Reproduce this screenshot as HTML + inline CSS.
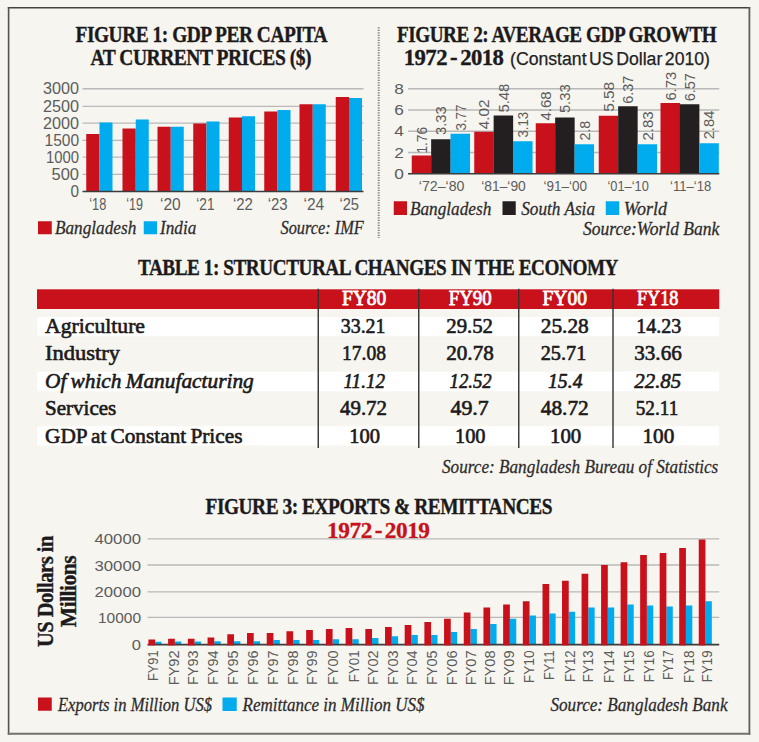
<!DOCTYPE html>
<html><head><meta charset="utf-8"><title>Bangladesh economy charts</title>
<style>html,body{margin:0;padding:0;background:#f6f5f0;}svg{display:block}</style></head>
<body><svg width="759" height="742" viewBox="0 0 759 742">
<rect width="759" height="742" fill="#f6f5f0"/>
<line x1="7.8" y1="7.75" x2="750.2" y2="7.75" stroke="#47423e" stroke-width="1.6" />
<line x1="8.6" y1="7.0" x2="8.6" y2="734.8" stroke="#56524e" stroke-width="1.6" />
<line x1="749.4" y1="7.0" x2="749.4" y2="734.8" stroke="#625e5a" stroke-width="1.8" />
<line x1="7.8" y1="733.8" x2="750.3" y2="733.8" stroke="#74726e" stroke-width="2.0" />
<line x1="378.7" y1="27.2" x2="378.7" y2="238" stroke="#858585" stroke-width="2" stroke-dasharray="1.2 1.3"/>
<text x="75.5" y="41.9" font-family='"Liberation Serif", serif' font-size="22.6" font-weight="bold" font-style="normal" fill="#1c1a1b" textLength="251.5" lengthAdjust="spacingAndGlyphs" letter-spacing="-0.55" stroke="#1c1a1b" stroke-width="0.35">FIGURE 1: GDP PER CAPITA</text>
<text x="90.5" y="65.1" font-family='"Liberation Serif", serif' font-size="22.6" font-weight="bold" font-style="normal" fill="#1c1a1b" textLength="220.5" lengthAdjust="spacingAndGlyphs" letter-spacing="-0.55" stroke="#1c1a1b" stroke-width="0.35">AT CURRENT PRICES ($)</text>
<line x1="82.5" y1="88.75" x2="363.5" y2="88.75" stroke="#b9b9b9" stroke-width="1.3" />
<line x1="82.5" y1="106.4" x2="363.5" y2="106.4" stroke="#b9b9b9" stroke-width="1.3" />
<line x1="82.5" y1="123.2" x2="363.5" y2="123.2" stroke="#b9b9b9" stroke-width="1.3" />
<line x1="82.5" y1="140.4" x2="363.5" y2="140.4" stroke="#b9b9b9" stroke-width="1.3" />
<line x1="82.5" y1="157.2" x2="363.5" y2="157.2" stroke="#b9b9b9" stroke-width="1.3" />
<line x1="82.5" y1="174.3" x2="363.5" y2="174.3" stroke="#b9b9b9" stroke-width="1.3" />
<text x="43" y="94.05" font-family='"Liberation Sans", sans-serif' font-size="16.0" font-weight="normal" font-style="normal" fill="#5c5c5c" textLength="36" lengthAdjust="spacingAndGlyphs" >3000</text>
<text x="43" y="111.7" font-family='"Liberation Sans", sans-serif' font-size="16.0" font-weight="normal" font-style="normal" fill="#5c5c5c" textLength="36" lengthAdjust="spacingAndGlyphs" >2500</text>
<text x="43" y="128.5" font-family='"Liberation Sans", sans-serif' font-size="16.0" font-weight="normal" font-style="normal" fill="#5c5c5c" textLength="36" lengthAdjust="spacingAndGlyphs" >2000</text>
<text x="44.5" y="145.70000000000002" font-family='"Liberation Sans", sans-serif' font-size="16.0" font-weight="normal" font-style="normal" fill="#5c5c5c" textLength="34.5" lengthAdjust="spacingAndGlyphs" >1500</text>
<text x="46" y="162.5" font-family='"Liberation Sans", sans-serif' font-size="16.0" font-weight="normal" font-style="normal" fill="#5c5c5c" textLength="33" lengthAdjust="spacingAndGlyphs" >1000</text>
<text x="51.5" y="179.60000000000002" font-family='"Liberation Sans", sans-serif' font-size="16.0" font-weight="normal" font-style="normal" fill="#5c5c5c" textLength="27.5" lengthAdjust="spacingAndGlyphs" >500</text>
<text x="70.5" y="196.8" font-family='"Liberation Sans", sans-serif' font-size="16.0" font-weight="normal" font-style="normal" fill="#5c5c5c" textLength="8.5" lengthAdjust="spacingAndGlyphs" >0</text>
<rect x="86.25" y="134.00" width="13.25" height="57.50" fill="#c8111a"/>
<rect x="99.50" y="122.50" width="13.00" height="69.00" fill="#00acee"/>
<text x="89.25" y="209.6" font-family='"Liberation Sans", sans-serif' font-size="15.8" font-weight="normal" font-style="normal" fill="#5c5c5c" textLength="17" lengthAdjust="spacingAndGlyphs" >‘18</text>
<rect x="122.50" y="128.50" width="13.25" height="63.00" fill="#c8111a"/>
<rect x="135.75" y="119.50" width="13.00" height="72.00" fill="#00acee"/>
<text x="126.225" y="209.6" font-family='"Liberation Sans", sans-serif' font-size="15.8" font-weight="normal" font-style="normal" fill="#5c5c5c" textLength="16.75" lengthAdjust="spacingAndGlyphs" >‘19</text>
<rect x="157.50" y="126.75" width="13.25" height="64.75" fill="#c8111a"/>
<rect x="170.75" y="126.75" width="13.00" height="64.75" fill="#00acee"/>
<text x="160.025" y="209.6" font-family='"Liberation Sans", sans-serif' font-size="15.8" font-weight="normal" font-style="normal" fill="#5c5c5c" textLength="20.75" lengthAdjust="spacingAndGlyphs" >‘20</text>
<rect x="193.25" y="123.50" width="13.25" height="68.00" fill="#c8111a"/>
<rect x="206.50" y="121.50" width="13.00" height="70.00" fill="#00acee"/>
<text x="196.275" y="209.6" font-family='"Liberation Sans", sans-serif' font-size="15.8" font-weight="normal" font-style="normal" fill="#5c5c5c" textLength="18.25" lengthAdjust="spacingAndGlyphs" >‘21</text>
<rect x="228.75" y="117.50" width="13.25" height="74.00" fill="#c8111a"/>
<rect x="242.00" y="116.25" width="13.00" height="75.25" fill="#00acee"/>
<text x="232.9" y="209.6" font-family='"Liberation Sans", sans-serif' font-size="15.8" font-weight="normal" font-style="normal" fill="#5c5c5c" textLength="20" lengthAdjust="spacingAndGlyphs" >‘22</text>
<rect x="264.25" y="111.50" width="13.25" height="80.00" fill="#c8111a"/>
<rect x="277.50" y="110.00" width="13.00" height="81.50" fill="#00acee"/>
<text x="267.7" y="209.6" font-family='"Liberation Sans", sans-serif' font-size="15.8" font-weight="normal" font-style="normal" fill="#5c5c5c" textLength="20" lengthAdjust="spacingAndGlyphs" >‘23</text>
<rect x="299.50" y="104.25" width="13.25" height="87.25" fill="#c8111a"/>
<rect x="312.75" y="104.25" width="13.00" height="87.25" fill="#00acee"/>
<text x="303.54999999999995" y="209.6" font-family='"Liberation Sans", sans-serif' font-size="15.8" font-weight="normal" font-style="normal" fill="#5c5c5c" textLength="20.7" lengthAdjust="spacingAndGlyphs" >‘24</text>
<rect x="335.75" y="97.00" width="13.25" height="94.50" fill="#c8111a"/>
<rect x="349.00" y="98.00" width="13.00" height="93.50" fill="#00acee"/>
<text x="339.4" y="209.6" font-family='"Liberation Sans", sans-serif' font-size="15.8" font-weight="normal" font-style="normal" fill="#5c5c5c" textLength="19.6" lengthAdjust="spacingAndGlyphs" >‘25</text>
<line x1="82.5" y1="191.5" x2="363.5" y2="191.5" stroke="#3c3c3c" stroke-width="1.6" />
<rect x="38.00" y="221.25" width="13.75" height="13.00" fill="#c8111a"/>
<text x="55" y="234.25" font-family='"Liberation Serif", serif' font-size="19.6" font-weight="normal" font-style="italic" fill="#2e2b2c" textLength="81.25" lengthAdjust="spacingAndGlyphs" stroke="#2e2b2c" stroke-width="0.28">Bangladesh</text>
<rect x="143.75" y="221.25" width="13.25" height="13.00" fill="#00acee"/>
<text x="160" y="234.25" font-family='"Liberation Serif", serif' font-size="19.6" font-weight="normal" font-style="italic" fill="#2e2b2c" textLength="36.25" lengthAdjust="spacingAndGlyphs" stroke="#2e2b2c" stroke-width="0.28">India</text>
<text x="280.5" y="234.25" font-family='"Liberation Serif", serif' font-size="19.6" font-weight="normal" font-style="italic" fill="#2e2b2c" textLength="83.25" lengthAdjust="spacingAndGlyphs" stroke="#2e2b2c" stroke-width="0.28">Source: IMF</text>
<text x="397" y="41.9" font-family='"Liberation Serif", serif' font-size="22.6" font-weight="bold" font-style="normal" fill="#1c1a1b" textLength="319.25" lengthAdjust="spacingAndGlyphs" letter-spacing="-0.55" stroke="#1c1a1b" stroke-width="0.35">FIGURE 2: AVERAGE GDP GROWTH</text>
<text x="403.8" y="65.0" font-family='"Liberation Serif", serif' font-size="22.6" font-weight="bold" font-style="normal" fill="#1c1a1b" textLength="99.5" lengthAdjust="spacingAndGlyphs" letter-spacing="-0.55" stroke="#1c1a1b" stroke-width="0.35" word-spacing="-2">1972 - 2018</text>
<text x="510" y="65.1" font-family='"Liberation Sans", sans-serif' font-size="18.8" font-weight="normal" font-style="normal" fill="#222" textLength="200" lengthAdjust="spacingAndGlyphs" word-spacing="-2.5" stroke="#222" stroke-width="0.25">(Constant US Dollar 2010)</text>
<line x1="408" y1="88.75" x2="719.25" y2="88.75" stroke="#b9b9b9" stroke-width="1.3" />
<line x1="408" y1="110" x2="719.25" y2="110" stroke="#b9b9b9" stroke-width="1.3" />
<line x1="408" y1="131.25" x2="719.25" y2="131.25" stroke="#b9b9b9" stroke-width="1.3" />
<line x1="408" y1="152.5" x2="719.25" y2="152.5" stroke="#b9b9b9" stroke-width="1.3" />
<text x="394.3" y="93.75" font-family='"Liberation Sans", sans-serif' font-size="15.3" font-weight="normal" font-style="normal" fill="#5c5c5c" textLength="9.6" lengthAdjust="spacingAndGlyphs" >8</text>
<text x="394.3" y="115.0" font-family='"Liberation Sans", sans-serif' font-size="15.3" font-weight="normal" font-style="normal" fill="#5c5c5c" textLength="9.6" lengthAdjust="spacingAndGlyphs" >6</text>
<text x="394.3" y="136.25" font-family='"Liberation Sans", sans-serif' font-size="15.3" font-weight="normal" font-style="normal" fill="#5c5c5c" textLength="9.6" lengthAdjust="spacingAndGlyphs" >4</text>
<text x="394.3" y="157.5" font-family='"Liberation Sans", sans-serif' font-size="15.3" font-weight="normal" font-style="normal" fill="#5c5c5c" textLength="9.6" lengthAdjust="spacingAndGlyphs" >2</text>
<text x="394.3" y="178.75" font-family='"Liberation Sans", sans-serif' font-size="15.3" font-weight="normal" font-style="normal" fill="#5c5c5c" textLength="9.6" lengthAdjust="spacingAndGlyphs" >0</text>
<rect x="411.75" y="155.50" width="19.50" height="18.25" fill="#c8111a"/>
<text transform="translate(426.84999999999997,153.5) rotate(-90)" font-family='"Liberation Sans", sans-serif' font-size="15.0" font-weight="normal" font-style="normal" fill="#5c5c5c" textLength="26.5" lengthAdjust="spacingAndGlyphs" >1.76</text>
<rect x="431.15" y="139.25" width="19.50" height="34.50" fill="#231f20"/>
<text transform="translate(446.24999999999994,134.9) rotate(-90)" font-family='"Liberation Sans", sans-serif' font-size="15.0" font-weight="normal" font-style="normal" fill="#5c5c5c" textLength="28.6" lengthAdjust="spacingAndGlyphs" >3.33</text>
<rect x="450.55" y="133.75" width="19.50" height="40.00" fill="#00acee"/>
<text transform="translate(465.65,130.6) rotate(-90)" font-family='"Liberation Sans", sans-serif' font-size="15.0" font-weight="normal" font-style="normal" fill="#5c5c5c" textLength="26.2" lengthAdjust="spacingAndGlyphs" >3.77</text>
<text x="418.75" y="190.9" font-family='"Liberation Sans", sans-serif' font-size="15.2" font-weight="normal" font-style="normal" fill="#5c5c5c" textLength="45.75" lengthAdjust="spacingAndGlyphs" >‘72–‘80</text>
<rect x="474.25" y="131.75" width="19.50" height="42.00" fill="#c8111a"/>
<text transform="translate(489.34999999999997,129.35) rotate(-90)" font-family='"Liberation Sans", sans-serif' font-size="15.0" font-weight="normal" font-style="normal" fill="#5c5c5c" textLength="29.95" lengthAdjust="spacingAndGlyphs" >4.02</text>
<rect x="493.65" y="115.50" width="19.50" height="58.25" fill="#231f20"/>
<text transform="translate(508.74999999999994,112.6) rotate(-90)" font-family='"Liberation Sans", sans-serif' font-size="15.0" font-weight="normal" font-style="normal" fill="#5c5c5c" textLength="28.95" lengthAdjust="spacingAndGlyphs" >5.48</text>
<rect x="513.05" y="141.25" width="19.50" height="32.50" fill="#00acee"/>
<text transform="translate(528.15,137.6) rotate(-90)" font-family='"Liberation Sans", sans-serif' font-size="15.0" font-weight="normal" font-style="normal" fill="#5c5c5c" textLength="25.7" lengthAdjust="spacingAndGlyphs" >3.13</text>
<text x="481.25" y="190.9" font-family='"Liberation Sans", sans-serif' font-size="15.2" font-weight="normal" font-style="normal" fill="#5c5c5c" textLength="44.5" lengthAdjust="spacingAndGlyphs" >‘81–‘90</text>
<rect x="535.75" y="123.25" width="19.50" height="50.50" fill="#c8111a"/>
<text transform="translate(550.85,120.6) rotate(-90)" font-family='"Liberation Sans", sans-serif' font-size="15.0" font-weight="normal" font-style="normal" fill="#5c5c5c" textLength="29.2" lengthAdjust="spacingAndGlyphs" >4.68</text>
<rect x="555.15" y="117.50" width="19.50" height="56.25" fill="#231f20"/>
<text transform="translate(570.25,113.1) rotate(-90)" font-family='"Liberation Sans", sans-serif' font-size="15.0" font-weight="normal" font-style="normal" fill="#5c5c5c" textLength="28.7" lengthAdjust="spacingAndGlyphs" >5.33</text>
<rect x="574.55" y="144.25" width="19.50" height="29.50" fill="#00acee"/>
<text transform="translate(589.65,140.6) rotate(-90)" font-family='"Liberation Sans", sans-serif' font-size="15.0" font-weight="normal" font-style="normal" fill="#5c5c5c" textLength="19.95" lengthAdjust="spacingAndGlyphs" >2.8</text>
<text x="543.5" y="190.9" font-family='"Liberation Sans", sans-serif' font-size="15.2" font-weight="normal" font-style="normal" fill="#5c5c5c" textLength="43.5" lengthAdjust="spacingAndGlyphs" >‘91–‘00</text>
<rect x="598.75" y="115.75" width="19.50" height="58.00" fill="#c8111a"/>
<text transform="translate(613.85,111.85) rotate(-90)" font-family='"Liberation Sans", sans-serif' font-size="15.0" font-weight="normal" font-style="normal" fill="#5c5c5c" textLength="29.95" lengthAdjust="spacingAndGlyphs" >5.58</text>
<rect x="618.15" y="106.25" width="19.50" height="67.50" fill="#231f20"/>
<text transform="translate(633.25,103.85) rotate(-90)" font-family='"Liberation Sans", sans-serif' font-size="15.0" font-weight="normal" font-style="normal" fill="#5c5c5c" textLength="28.2" lengthAdjust="spacingAndGlyphs" >6.37</text>
<rect x="637.55" y="144.25" width="19.50" height="29.50" fill="#00acee"/>
<text transform="translate(652.65,140.6) rotate(-90)" font-family='"Liberation Sans", sans-serif' font-size="15.0" font-weight="normal" font-style="normal" fill="#5c5c5c" textLength="29.2" lengthAdjust="spacingAndGlyphs" >2.83</text>
<text x="607.5" y="190.9" font-family='"Liberation Sans", sans-serif' font-size="15.2" font-weight="normal" font-style="normal" fill="#5c5c5c" textLength="41.25" lengthAdjust="spacingAndGlyphs" >‘01–‘10</text>
<rect x="660.50" y="103.00" width="19.50" height="70.75" fill="#c8111a"/>
<text transform="translate(675.6,100.6) rotate(-90)" font-family='"Liberation Sans", sans-serif' font-size="15.0" font-weight="normal" font-style="normal" fill="#5c5c5c" textLength="28.7" lengthAdjust="spacingAndGlyphs" >6.73</text>
<rect x="679.90" y="104.25" width="19.50" height="69.50" fill="#231f20"/>
<text transform="translate(695.0,101.35) rotate(-90)" font-family='"Liberation Sans", sans-serif' font-size="15.0" font-weight="normal" font-style="normal" fill="#5c5c5c" textLength="28.2" lengthAdjust="spacingAndGlyphs" >6.57</text>
<rect x="699.30" y="143.25" width="19.50" height="30.50" fill="#00acee"/>
<text transform="translate(714.4,139.35) rotate(-90)" font-family='"Liberation Sans", sans-serif' font-size="15.0" font-weight="normal" font-style="normal" fill="#5c5c5c" textLength="28.7" lengthAdjust="spacingAndGlyphs" >2.84</text>
<text x="670" y="190.9" font-family='"Liberation Sans", sans-serif' font-size="15.2" font-weight="normal" font-style="normal" fill="#5c5c5c" textLength="41.25" lengthAdjust="spacingAndGlyphs" >‘11–‘18</text>
<line x1="408" y1="173.75" x2="719.25" y2="173.75" stroke="#3c3c3c" stroke-width="1.6" />
<rect x="393.75" y="201.25" width="13.25" height="13.75" fill="#c8111a"/>
<text x="410" y="215" font-family='"Liberation Serif", serif' font-size="19.6" font-weight="normal" font-style="italic" fill="#2e2b2c" textLength="81.25" lengthAdjust="spacingAndGlyphs" stroke="#2e2b2c" stroke-width="0.28">Bangladesh</text>
<rect x="502.50" y="201.25" width="13.25" height="13.75" fill="#231f20"/>
<text x="521.25" y="215" font-family='"Liberation Serif", serif' font-size="19.6" font-weight="normal" font-style="italic" fill="#2e2b2c" textLength="73.75" lengthAdjust="spacingAndGlyphs" stroke="#2e2b2c" stroke-width="0.28">South Asia</text>
<rect x="605.75" y="201.25" width="13.50" height="13.75" fill="#00acee"/>
<text x="623.75" y="215" font-family='"Liberation Serif", serif' font-size="19.6" font-weight="normal" font-style="italic" fill="#2e2b2c" textLength="43.25" lengthAdjust="spacingAndGlyphs" stroke="#2e2b2c" stroke-width="0.28">World</text>
<text x="583" y="235" font-family='"Liberation Serif", serif' font-size="19.6" font-weight="normal" font-style="italic" fill="#2e2b2c" textLength="136.25" lengthAdjust="spacingAndGlyphs" stroke="#2e2b2c" stroke-width="0.28">Source:World Bank</text>
<text x="138" y="274.5" font-family='"Liberation Serif", serif' font-size="23.2" font-weight="bold" font-style="normal" fill="#1c1a1b" textLength="480" lengthAdjust="spacingAndGlyphs" letter-spacing="-0.55" stroke="#1c1a1b" stroke-width="0.35">TABLE 1: STRUCTURAL CHANGES IN THE ECONOMY</text>
<rect x="37.00" y="289.30" width="682.25" height="19.70" fill="#c8111a"/>
<rect x="37.00" y="317.00" width="682.25" height="19.25" fill="#ffffff"/>
<rect x="37.00" y="371.75" width="682.25" height="19.50" fill="#ffffff"/>
<rect x="37.00" y="426.25" width="682.25" height="19.25" fill="#ffffff"/>
<line x1="318.25" y1="288.75" x2="318.25" y2="448" stroke="#333" stroke-width="1.4" />
<line x1="418.75" y1="288.75" x2="418.75" y2="448" stroke="#333" stroke-width="1.4" />
<line x1="518.75" y1="288.75" x2="518.75" y2="448" stroke="#333" stroke-width="1.4" />
<line x1="613" y1="288.75" x2="613" y2="448" stroke="#333" stroke-width="1.4" />
<text x="342" y="305.4" font-family='"Liberation Serif", serif' font-size="20" font-weight="normal" font-style="normal" fill="#fff" textLength="44.25" lengthAdjust="spacingAndGlyphs" stroke="#fff" stroke-width="0.8" stroke-linejoin="round">FY80</text>
<text x="448.75" y="305.4" font-family='"Liberation Serif", serif' font-size="20" font-weight="normal" font-style="normal" fill="#fff" textLength="43.0" lengthAdjust="spacingAndGlyphs" stroke="#fff" stroke-width="0.8" stroke-linejoin="round">FY90</text>
<text x="542.5" y="305.4" font-family='"Liberation Serif", serif' font-size="20" font-weight="normal" font-style="normal" fill="#fff" textLength="44.5" lengthAdjust="spacingAndGlyphs" stroke="#fff" stroke-width="0.8" stroke-linejoin="round">FY00</text>
<text x="637" y="305.4" font-family='"Liberation Serif", serif' font-size="20" font-weight="normal" font-style="normal" fill="#fff" textLength="41.25" lengthAdjust="spacingAndGlyphs" stroke="#fff" stroke-width="0.8" stroke-linejoin="round">FY18</text>
<text x="45" y="333" font-family='"Liberation Serif", serif' font-size="21.3" font-weight="normal" font-style="normal" fill="#1c1a1b" textLength="100" lengthAdjust="spacingAndGlyphs" stroke="#1c1a1b" stroke-width="0.62" stroke-linejoin="round" word-spacing="-1.2">Agriculture</text>
<text x="45" y="360" font-family='"Liberation Serif", serif' font-size="21.3" font-weight="normal" font-style="normal" fill="#1c1a1b" textLength="75" lengthAdjust="spacingAndGlyphs" stroke="#1c1a1b" stroke-width="0.62" stroke-linejoin="round" word-spacing="-1.2">Industry</text>
<text x="45" y="387.5" font-family='"Liberation Serif", serif' font-size="21.3" font-weight="normal" font-style="italic" fill="#1c1a1b" textLength="208.75" lengthAdjust="spacingAndGlyphs" stroke="#1c1a1b" stroke-width="0.62" stroke-linejoin="round" word-spacing="-1.2">Of which Manufacturing</text>
<text x="45" y="414.5" font-family='"Liberation Serif", serif' font-size="21.3" font-weight="normal" font-style="normal" fill="#1c1a1b" textLength="71.25" lengthAdjust="spacingAndGlyphs" stroke="#1c1a1b" stroke-width="0.62" stroke-linejoin="round" word-spacing="-1.2">Services</text>
<text x="45" y="442.5" font-family='"Liberation Serif", serif' font-size="21.3" font-weight="normal" font-style="normal" fill="#1c1a1b" textLength="197.5" lengthAdjust="spacingAndGlyphs" stroke="#1c1a1b" stroke-width="0.62" stroke-linejoin="round" word-spacing="-1.2">GDP at Constant Prices</text>
<text x="340.75" y="333" font-family='"Liberation Serif", serif' font-size="20.3" font-weight="normal" font-style="normal" fill="#1c1a1b" textLength="44.75" lengthAdjust="spacingAndGlyphs" stroke="#1c1a1b" stroke-width="0.62" stroke-linejoin="round">33.21</text>
<text x="342" y="360" font-family='"Liberation Serif", serif' font-size="20.3" font-weight="normal" font-style="normal" fill="#1c1a1b" textLength="44" lengthAdjust="spacingAndGlyphs" stroke="#1c1a1b" stroke-width="0.62" stroke-linejoin="round">17.08</text>
<text x="343.5" y="387.5" font-family='"Liberation Serif", serif' font-size="20.3" font-weight="normal" font-style="italic" fill="#1c1a1b" textLength="41.5" lengthAdjust="spacingAndGlyphs" stroke="#1c1a1b" stroke-width="0.62" stroke-linejoin="round">11.12</text>
<text x="340" y="414.5" font-family='"Liberation Serif", serif' font-size="20.3" font-weight="normal" font-style="normal" fill="#1c1a1b" textLength="47" lengthAdjust="spacingAndGlyphs" stroke="#1c1a1b" stroke-width="0.62" stroke-linejoin="round">49.72</text>
<text x="349.25" y="442.5" font-family='"Liberation Serif", serif' font-size="20.3" font-weight="normal" font-style="normal" fill="#1c1a1b" textLength="30.75" lengthAdjust="spacingAndGlyphs" stroke="#1c1a1b" stroke-width="0.62" stroke-linejoin="round">100</text>
<text x="446.25" y="333" font-family='"Liberation Serif", serif' font-size="20.3" font-weight="normal" font-style="normal" fill="#1c1a1b" textLength="46.75" lengthAdjust="spacingAndGlyphs" stroke="#1c1a1b" stroke-width="0.62" stroke-linejoin="round">29.52</text>
<text x="446.25" y="360" font-family='"Liberation Serif", serif' font-size="20.3" font-weight="normal" font-style="normal" fill="#1c1a1b" textLength="47.5" lengthAdjust="spacingAndGlyphs" stroke="#1c1a1b" stroke-width="0.62" stroke-linejoin="round">20.78</text>
<text x="449.5" y="387.5" font-family='"Liberation Serif", serif' font-size="20.3" font-weight="normal" font-style="italic" fill="#1c1a1b" textLength="42.25" lengthAdjust="spacingAndGlyphs" stroke="#1c1a1b" stroke-width="0.62" stroke-linejoin="round">12.52</text>
<text x="450.5" y="414.5" font-family='"Liberation Serif", serif' font-size="20.3" font-weight="normal" font-style="normal" fill="#1c1a1b" textLength="38.25" lengthAdjust="spacingAndGlyphs" stroke="#1c1a1b" stroke-width="0.62" stroke-linejoin="round">49.7</text>
<text x="455" y="442.5" font-family='"Liberation Serif", serif' font-size="20.3" font-weight="normal" font-style="normal" fill="#1c1a1b" textLength="30.5" lengthAdjust="spacingAndGlyphs" stroke="#1c1a1b" stroke-width="0.62" stroke-linejoin="round">100</text>
<text x="540.75" y="333" font-family='"Liberation Serif", serif' font-size="20.3" font-weight="normal" font-style="normal" fill="#1c1a1b" textLength="48.0" lengthAdjust="spacingAndGlyphs" stroke="#1c1a1b" stroke-width="0.62" stroke-linejoin="round">25.28</text>
<text x="540.75" y="360" font-family='"Liberation Serif", serif' font-size="20.3" font-weight="normal" font-style="normal" fill="#1c1a1b" textLength="45.5" lengthAdjust="spacingAndGlyphs" stroke="#1c1a1b" stroke-width="0.62" stroke-linejoin="round">25.71</text>
<text x="548" y="387.5" font-family='"Liberation Serif", serif' font-size="20.3" font-weight="normal" font-style="italic" fill="#1c1a1b" textLength="34.5" lengthAdjust="spacingAndGlyphs" stroke="#1c1a1b" stroke-width="0.62" stroke-linejoin="round">15.4</text>
<text x="540.75" y="414.5" font-family='"Liberation Serif", serif' font-size="20.3" font-weight="normal" font-style="normal" fill="#1c1a1b" textLength="48.0" lengthAdjust="spacingAndGlyphs" stroke="#1c1a1b" stroke-width="0.62" stroke-linejoin="round">48.72</text>
<text x="550" y="442.5" font-family='"Liberation Serif", serif' font-size="20.3" font-weight="normal" font-style="normal" fill="#1c1a1b" textLength="31.25" lengthAdjust="spacingAndGlyphs" stroke="#1c1a1b" stroke-width="0.62" stroke-linejoin="round">100</text>
<text x="636.25" y="333" font-family='"Liberation Serif", serif' font-size="20.3" font-weight="normal" font-style="normal" fill="#1c1a1b" textLength="45.0" lengthAdjust="spacingAndGlyphs" stroke="#1c1a1b" stroke-width="0.62" stroke-linejoin="round">14.23</text>
<text x="634.25" y="360" font-family='"Liberation Serif", serif' font-size="20.3" font-weight="normal" font-style="normal" fill="#1c1a1b" textLength="47.5" lengthAdjust="spacingAndGlyphs" stroke="#1c1a1b" stroke-width="0.62" stroke-linejoin="round">33.66</text>
<text x="634.25" y="387.5" font-family='"Liberation Serif", serif' font-size="20.3" font-weight="normal" font-style="italic" fill="#1c1a1b" textLength="47.0" lengthAdjust="spacingAndGlyphs" stroke="#1c1a1b" stroke-width="0.62" stroke-linejoin="round">22.85</text>
<text x="635.75" y="414.5" font-family='"Liberation Serif", serif' font-size="20.3" font-weight="normal" font-style="normal" fill="#1c1a1b" textLength="42.5" lengthAdjust="spacingAndGlyphs" stroke="#1c1a1b" stroke-width="0.62" stroke-linejoin="round">52.11</text>
<text x="642.5" y="442.5" font-family='"Liberation Serif", serif' font-size="20.3" font-weight="normal" font-style="normal" fill="#1c1a1b" textLength="31.75" lengthAdjust="spacingAndGlyphs" stroke="#1c1a1b" stroke-width="0.62" stroke-linejoin="round">100</text>
<text x="442" y="472.9" font-family='"Liberation Serif", serif' font-size="19.3" font-weight="normal" font-style="italic" fill="#2e2b2c" textLength="276.25" lengthAdjust="spacingAndGlyphs" stroke="#2e2b2c" stroke-width="0.28">Source: Bangladesh Bureau of Statistics</text>
<text x="205.5" y="514.1" font-family='"Liberation Serif", serif' font-size="22.6" font-weight="bold" font-style="normal" fill="#1c1a1b" textLength="346.5" lengthAdjust="spacingAndGlyphs" letter-spacing="-0.55" stroke="#1c1a1b" stroke-width="0.35">FIGURE 3: EXPORTS &amp; REMITTANCES</text>
<text x="327" y="538.0" font-family='"Liberation Serif", serif' font-size="22.2" font-weight="bold" font-style="normal" fill="#c8111a" textLength="102.6" lengthAdjust="spacingAndGlyphs" word-spacing="-2.5" letter-spacing="-0.4" stroke="#c8111a" stroke-width="0.3">1972 - 2019</text>
<line x1="147.5" y1="538.8" x2="719.25" y2="538.8" stroke="#b9b9b9" stroke-width="1.3" />
<line x1="147.5" y1="565" x2="719.25" y2="565" stroke="#b9b9b9" stroke-width="1.3" />
<line x1="147.5" y1="591.9" x2="719.25" y2="591.9" stroke="#b9b9b9" stroke-width="1.3" />
<line x1="147.5" y1="617.4" x2="719.25" y2="617.4" stroke="#b9b9b9" stroke-width="1.3" />
<text x="94.5" y="543.8" font-family='"Liberation Sans", sans-serif' font-size="14.8" font-weight="normal" font-style="normal" fill="#5c5c5c" textLength="46.5" lengthAdjust="spacingAndGlyphs" >40000</text>
<text x="94.5" y="571.2" font-family='"Liberation Sans", sans-serif' font-size="14.8" font-weight="normal" font-style="normal" fill="#5c5c5c" textLength="46.5" lengthAdjust="spacingAndGlyphs" >30000</text>
<text x="94.5" y="596.5" font-family='"Liberation Sans", sans-serif' font-size="14.8" font-weight="normal" font-style="normal" fill="#5c5c5c" textLength="46.5" lengthAdjust="spacingAndGlyphs" >20000</text>
<text x="98" y="623" font-family='"Liberation Sans", sans-serif' font-size="14.8" font-weight="normal" font-style="normal" fill="#5c5c5c" textLength="43" lengthAdjust="spacingAndGlyphs" >10000</text>
<text x="131.8" y="650" font-family='"Liberation Sans", sans-serif' font-size="14.8" font-weight="normal" font-style="normal" fill="#5c5c5c" textLength="9.2" lengthAdjust="spacingAndGlyphs" >0</text>
<text transform="translate(53.1,591.6) rotate(-90)" font-family='"Liberation Serif", serif' font-size="22.6" font-weight="bold" font-style="normal" fill="#1c1a1b" text-anchor="middle" textLength="111" lengthAdjust="spacingAndGlyphs" letter-spacing="-0.55" stroke="#1c1a1b" stroke-width="0.35">US Dollars in</text>
<text transform="translate(76.4,591.5) rotate(-90)" font-family='"Liberation Serif", serif' font-size="22.6" font-weight="bold" font-style="normal" fill="#1c1a1b" text-anchor="middle" textLength="71.25" lengthAdjust="spacingAndGlyphs" letter-spacing="-0.55" stroke="#1c1a1b" stroke-width="0.35">Millions</text>
<rect x="155.10" y="641.75" width="6.40" height="2.85" fill="#00acee"/>
<text transform="translate(158.05,650.4) rotate(-90)" font-family='"Liberation Sans", sans-serif' font-size="15" font-weight="normal" font-style="normal" fill="#5c5c5c" text-anchor="end" textLength="30.6" lengthAdjust="spacingAndGlyphs" >FY91</text>
<rect x="174.82" y="641.50" width="6.40" height="3.10" fill="#00acee"/>
<text transform="translate(178.9,650.4) rotate(-90)" font-family='"Liberation Sans", sans-serif' font-size="15" font-weight="normal" font-style="normal" fill="#5c5c5c" text-anchor="end" textLength="34.9" lengthAdjust="spacingAndGlyphs" >FY92</text>
<rect x="194.54" y="641.50" width="6.40" height="3.10" fill="#00acee"/>
<text transform="translate(198.1,650.4) rotate(-90)" font-family='"Liberation Sans", sans-serif' font-size="15" font-weight="normal" font-style="normal" fill="#5c5c5c" text-anchor="end" textLength="34.6" lengthAdjust="spacingAndGlyphs" >FY93</text>
<rect x="214.26" y="641.25" width="6.40" height="3.35" fill="#00acee"/>
<text transform="translate(217.9,650.4) rotate(-90)" font-family='"Liberation Sans", sans-serif' font-size="15" font-weight="normal" font-style="normal" fill="#5c5c5c" text-anchor="end" textLength="34.6" lengthAdjust="spacingAndGlyphs" >FY94</text>
<rect x="233.98" y="641.25" width="6.40" height="3.35" fill="#00acee"/>
<text transform="translate(237.6,650.4) rotate(-90)" font-family='"Liberation Sans", sans-serif' font-size="15" font-weight="normal" font-style="normal" fill="#5c5c5c" text-anchor="end" textLength="34.6" lengthAdjust="spacingAndGlyphs" >FY95</text>
<rect x="253.70" y="641.25" width="6.40" height="3.35" fill="#00acee"/>
<text transform="translate(258.2,650.4) rotate(-90)" font-family='"Liberation Sans", sans-serif' font-size="15" font-weight="normal" font-style="normal" fill="#5c5c5c" text-anchor="end" textLength="34.6" lengthAdjust="spacingAndGlyphs" >FY96</text>
<rect x="273.42" y="640.00" width="6.40" height="4.60" fill="#00acee"/>
<text transform="translate(278.2,650.4) rotate(-90)" font-family='"Liberation Sans", sans-serif' font-size="15" font-weight="normal" font-style="normal" fill="#5c5c5c" text-anchor="end" textLength="34.6" lengthAdjust="spacingAndGlyphs" >FY97</text>
<rect x="293.14" y="640.00" width="6.40" height="4.60" fill="#00acee"/>
<text transform="translate(297.7,650.4) rotate(-90)" font-family='"Liberation Sans", sans-serif' font-size="15" font-weight="normal" font-style="normal" fill="#5c5c5c" text-anchor="end" textLength="34.6" lengthAdjust="spacingAndGlyphs" >FY98</text>
<rect x="312.86" y="640.00" width="6.40" height="4.60" fill="#00acee"/>
<text transform="translate(317.09999999999997,650.4) rotate(-90)" font-family='"Liberation Sans", sans-serif' font-size="15" font-weight="normal" font-style="normal" fill="#5c5c5c" text-anchor="end" textLength="34.6" lengthAdjust="spacingAndGlyphs" >FY99</text>
<rect x="332.58" y="639.25" width="6.40" height="5.35" fill="#00acee"/>
<text transform="translate(337.59999999999997,650.4) rotate(-90)" font-family='"Liberation Sans", sans-serif' font-size="15" font-weight="normal" font-style="normal" fill="#5c5c5c" text-anchor="end" textLength="34.6" lengthAdjust="spacingAndGlyphs" >FY00</text>
<rect x="352.30" y="639.25" width="6.40" height="5.35" fill="#00acee"/>
<text transform="translate(358.59999999999997,650.4) rotate(-90)" font-family='"Liberation Sans", sans-serif' font-size="15" font-weight="normal" font-style="normal" fill="#5c5c5c" text-anchor="end" textLength="31.8" lengthAdjust="spacingAndGlyphs" >FY01</text>
<rect x="372.02" y="638.00" width="6.40" height="6.60" fill="#00acee"/>
<text transform="translate(377.59999999999997,650.4) rotate(-90)" font-family='"Liberation Sans", sans-serif' font-size="15" font-weight="normal" font-style="normal" fill="#5c5c5c" text-anchor="end" textLength="34.6" lengthAdjust="spacingAndGlyphs" >FY02</text>
<rect x="391.74" y="636.25" width="6.40" height="8.35" fill="#00acee"/>
<text transform="translate(397.59999999999997,650.4) rotate(-90)" font-family='"Liberation Sans", sans-serif' font-size="15" font-weight="normal" font-style="normal" fill="#5c5c5c" text-anchor="end" textLength="34.6" lengthAdjust="spacingAndGlyphs" >FY03</text>
<rect x="411.39" y="635.00" width="6.40" height="9.60" fill="#00acee"/>
<text transform="translate(417.4,650.4) rotate(-90)" font-family='"Liberation Sans", sans-serif' font-size="15" font-weight="normal" font-style="normal" fill="#5c5c5c" text-anchor="end" textLength="34.6" lengthAdjust="spacingAndGlyphs" >FY04</text>
<rect x="431.08" y="635.00" width="6.40" height="9.60" fill="#00acee"/>
<text transform="translate(436.59999999999997,650.4) rotate(-90)" font-family='"Liberation Sans", sans-serif' font-size="15" font-weight="normal" font-style="normal" fill="#5c5c5c" text-anchor="end" textLength="34.6" lengthAdjust="spacingAndGlyphs" >FY05</text>
<rect x="450.77" y="632.00" width="6.40" height="12.60" fill="#00acee"/>
<text transform="translate(457.0,650.4) rotate(-90)" font-family='"Liberation Sans", sans-serif' font-size="15" font-weight="normal" font-style="normal" fill="#5c5c5c" text-anchor="end" textLength="34.9" lengthAdjust="spacingAndGlyphs" >FY06</text>
<rect x="470.46" y="629.00" width="6.40" height="15.60" fill="#00acee"/>
<text transform="translate(476.4,650.4) rotate(-90)" font-family='"Liberation Sans", sans-serif' font-size="15" font-weight="normal" font-style="normal" fill="#5c5c5c" text-anchor="end" textLength="34.9" lengthAdjust="spacingAndGlyphs" >FY07</text>
<rect x="490.15" y="624.00" width="6.40" height="20.60" fill="#00acee"/>
<text transform="translate(495.09999999999997,650.4) rotate(-90)" font-family='"Liberation Sans", sans-serif' font-size="15" font-weight="normal" font-style="normal" fill="#5c5c5c" text-anchor="end" textLength="34.9" lengthAdjust="spacingAndGlyphs" >FY08</text>
<rect x="509.84" y="618.75" width="6.40" height="25.85" fill="#00acee"/>
<text transform="translate(514.1,650.4) rotate(-90)" font-family='"Liberation Sans", sans-serif' font-size="15" font-weight="normal" font-style="normal" fill="#5c5c5c" text-anchor="end" textLength="34.9" lengthAdjust="spacingAndGlyphs" >FY09</text>
<rect x="529.53" y="615.50" width="6.40" height="29.10" fill="#00acee"/>
<text transform="translate(533.9,650.4) rotate(-90)" font-family='"Liberation Sans", sans-serif' font-size="15" font-weight="normal" font-style="normal" fill="#5c5c5c" text-anchor="end" textLength="32.8" lengthAdjust="spacingAndGlyphs" >FY10</text>
<rect x="549.22" y="613.50" width="6.40" height="31.10" fill="#00acee"/>
<text transform="translate(553.9,650.4) rotate(-90)" font-family='"Liberation Sans", sans-serif' font-size="15" font-weight="normal" font-style="normal" fill="#5c5c5c" text-anchor="end" textLength="29.6" lengthAdjust="spacingAndGlyphs" >FY11</text>
<rect x="568.73" y="611.75" width="6.40" height="32.85" fill="#00acee"/>
<text transform="translate(575.0,650.4) rotate(-90)" font-family='"Liberation Sans", sans-serif' font-size="15" font-weight="normal" font-style="normal" fill="#5c5c5c" text-anchor="end" textLength="31.6" lengthAdjust="spacingAndGlyphs" >FY12</text>
<rect x="588.26" y="607.50" width="6.40" height="37.10" fill="#00acee"/>
<text transform="translate(593.4,650.4) rotate(-90)" font-family='"Liberation Sans", sans-serif' font-size="15" font-weight="normal" font-style="normal" fill="#5c5c5c" text-anchor="end" textLength="31.8" lengthAdjust="spacingAndGlyphs" >FY13</text>
<rect x="607.79" y="607.50" width="6.40" height="37.10" fill="#00acee"/>
<text transform="translate(614.1,650.4) rotate(-90)" font-family='"Liberation Sans", sans-serif' font-size="15" font-weight="normal" font-style="normal" fill="#5c5c5c" text-anchor="end" textLength="32.8" lengthAdjust="spacingAndGlyphs" >FY14</text>
<rect x="627.32" y="604.50" width="6.40" height="40.10" fill="#00acee"/>
<text transform="translate(634.1999999999999,650.4) rotate(-90)" font-family='"Liberation Sans", sans-serif' font-size="15" font-weight="normal" font-style="normal" fill="#5c5c5c" text-anchor="end" textLength="31.8" lengthAdjust="spacingAndGlyphs" >FY15</text>
<rect x="646.85" y="605.50" width="6.40" height="39.10" fill="#00acee"/>
<text transform="translate(653.6999999999999,650.4) rotate(-90)" font-family='"Liberation Sans", sans-serif' font-size="15" font-weight="normal" font-style="normal" fill="#5c5c5c" text-anchor="end" textLength="31.8" lengthAdjust="spacingAndGlyphs" >FY16</text>
<rect x="666.38" y="606.50" width="6.40" height="38.10" fill="#00acee"/>
<text transform="translate(673.1,650.4) rotate(-90)" font-family='"Liberation Sans", sans-serif' font-size="15" font-weight="normal" font-style="normal" fill="#5c5c5c" text-anchor="end" textLength="29.6" lengthAdjust="spacingAndGlyphs" >FY17</text>
<rect x="685.91" y="605.50" width="6.40" height="39.10" fill="#00acee"/>
<text transform="translate(693.6,650.4) rotate(-90)" font-family='"Liberation Sans", sans-serif' font-size="15" font-weight="normal" font-style="normal" fill="#5c5c5c" text-anchor="end" textLength="32.8" lengthAdjust="spacingAndGlyphs" >FY18</text>
<rect x="705.44" y="601.25" width="6.40" height="43.35" fill="#00acee"/>
<text transform="translate(711.9,650.4) rotate(-90)" font-family='"Liberation Sans", sans-serif' font-size="15" font-weight="normal" font-style="normal" fill="#5c5c5c" text-anchor="end" textLength="31.8" lengthAdjust="spacingAndGlyphs" >FY19</text>
<line x1="147.5" y1="644.6" x2="719.25" y2="644.6" stroke="#3c3c3c" stroke-width="1.6" />
<rect x="148.40" y="639.50" width="6.70" height="5.90" fill="#c8111a"/>
<rect x="168.12" y="638.75" width="6.70" height="6.65" fill="#c8111a"/>
<rect x="187.84" y="638.75" width="6.70" height="6.65" fill="#c8111a"/>
<rect x="207.56" y="637.50" width="6.70" height="7.90" fill="#c8111a"/>
<rect x="227.28" y="634.25" width="6.70" height="11.15" fill="#c8111a"/>
<rect x="247.00" y="633.00" width="6.70" height="12.40" fill="#c8111a"/>
<rect x="266.72" y="633.00" width="6.70" height="12.40" fill="#c8111a"/>
<rect x="286.44" y="631.25" width="6.70" height="14.15" fill="#c8111a"/>
<rect x="306.16" y="630.00" width="6.70" height="15.40" fill="#c8111a"/>
<rect x="325.88" y="629.00" width="6.70" height="16.40" fill="#c8111a"/>
<rect x="345.60" y="628.00" width="6.70" height="17.40" fill="#c8111a"/>
<rect x="365.32" y="629.00" width="6.70" height="16.40" fill="#c8111a"/>
<rect x="385.04" y="627.00" width="6.70" height="18.40" fill="#c8111a"/>
<rect x="404.69" y="625.00" width="6.70" height="20.40" fill="#c8111a"/>
<rect x="424.38" y="622.00" width="6.70" height="23.40" fill="#c8111a"/>
<rect x="444.07" y="618.75" width="6.70" height="26.65" fill="#c8111a"/>
<rect x="463.76" y="612.50" width="6.70" height="32.90" fill="#c8111a"/>
<rect x="483.45" y="607.50" width="6.70" height="37.90" fill="#c8111a"/>
<rect x="503.14" y="604.50" width="6.70" height="40.90" fill="#c8111a"/>
<rect x="522.83" y="601.25" width="6.70" height="44.15" fill="#c8111a"/>
<rect x="542.52" y="584.00" width="6.70" height="61.40" fill="#c8111a"/>
<rect x="562.03" y="580.75" width="6.70" height="64.65" fill="#c8111a"/>
<rect x="581.56" y="573.75" width="6.70" height="71.65" fill="#c8111a"/>
<rect x="601.09" y="565.00" width="6.70" height="80.40" fill="#c8111a"/>
<rect x="620.62" y="562.25" width="6.70" height="83.15" fill="#c8111a"/>
<rect x="640.15" y="555.00" width="6.70" height="90.40" fill="#c8111a"/>
<rect x="659.68" y="553.00" width="6.70" height="92.40" fill="#c8111a"/>
<rect x="679.21" y="548.00" width="6.70" height="97.40" fill="#c8111a"/>
<rect x="698.74" y="539.50" width="6.70" height="105.90" fill="#c8111a"/>
<rect x="38.00" y="697.50" width="13.75" height="13.25" fill="#c8111a"/>
<text x="58" y="710.75" font-family='"Liberation Serif", serif' font-size="19" font-weight="normal" font-style="italic" fill="#2e2b2c" textLength="154" lengthAdjust="spacingAndGlyphs" stroke="#2e2b2c" stroke-width="0.28">Exports in Million US$</text>
<rect x="222.50" y="697.50" width="14.25" height="13.50" fill="#00acee"/>
<text x="242.5" y="710.75" font-family='"Liberation Serif", serif' font-size="19" font-weight="normal" font-style="italic" fill="#2e2b2c" textLength="182" lengthAdjust="spacingAndGlyphs" stroke="#2e2b2c" stroke-width="0.28">Remittance in Million US$</text>
<text x="550.5" y="710.75" font-family='"Liberation Serif", serif' font-size="19" font-weight="normal" font-style="italic" fill="#2e2b2c" textLength="177" lengthAdjust="spacingAndGlyphs" stroke="#2e2b2c" stroke-width="0.28">Source: Bangladesh Bank</text>
</svg></body></html>
